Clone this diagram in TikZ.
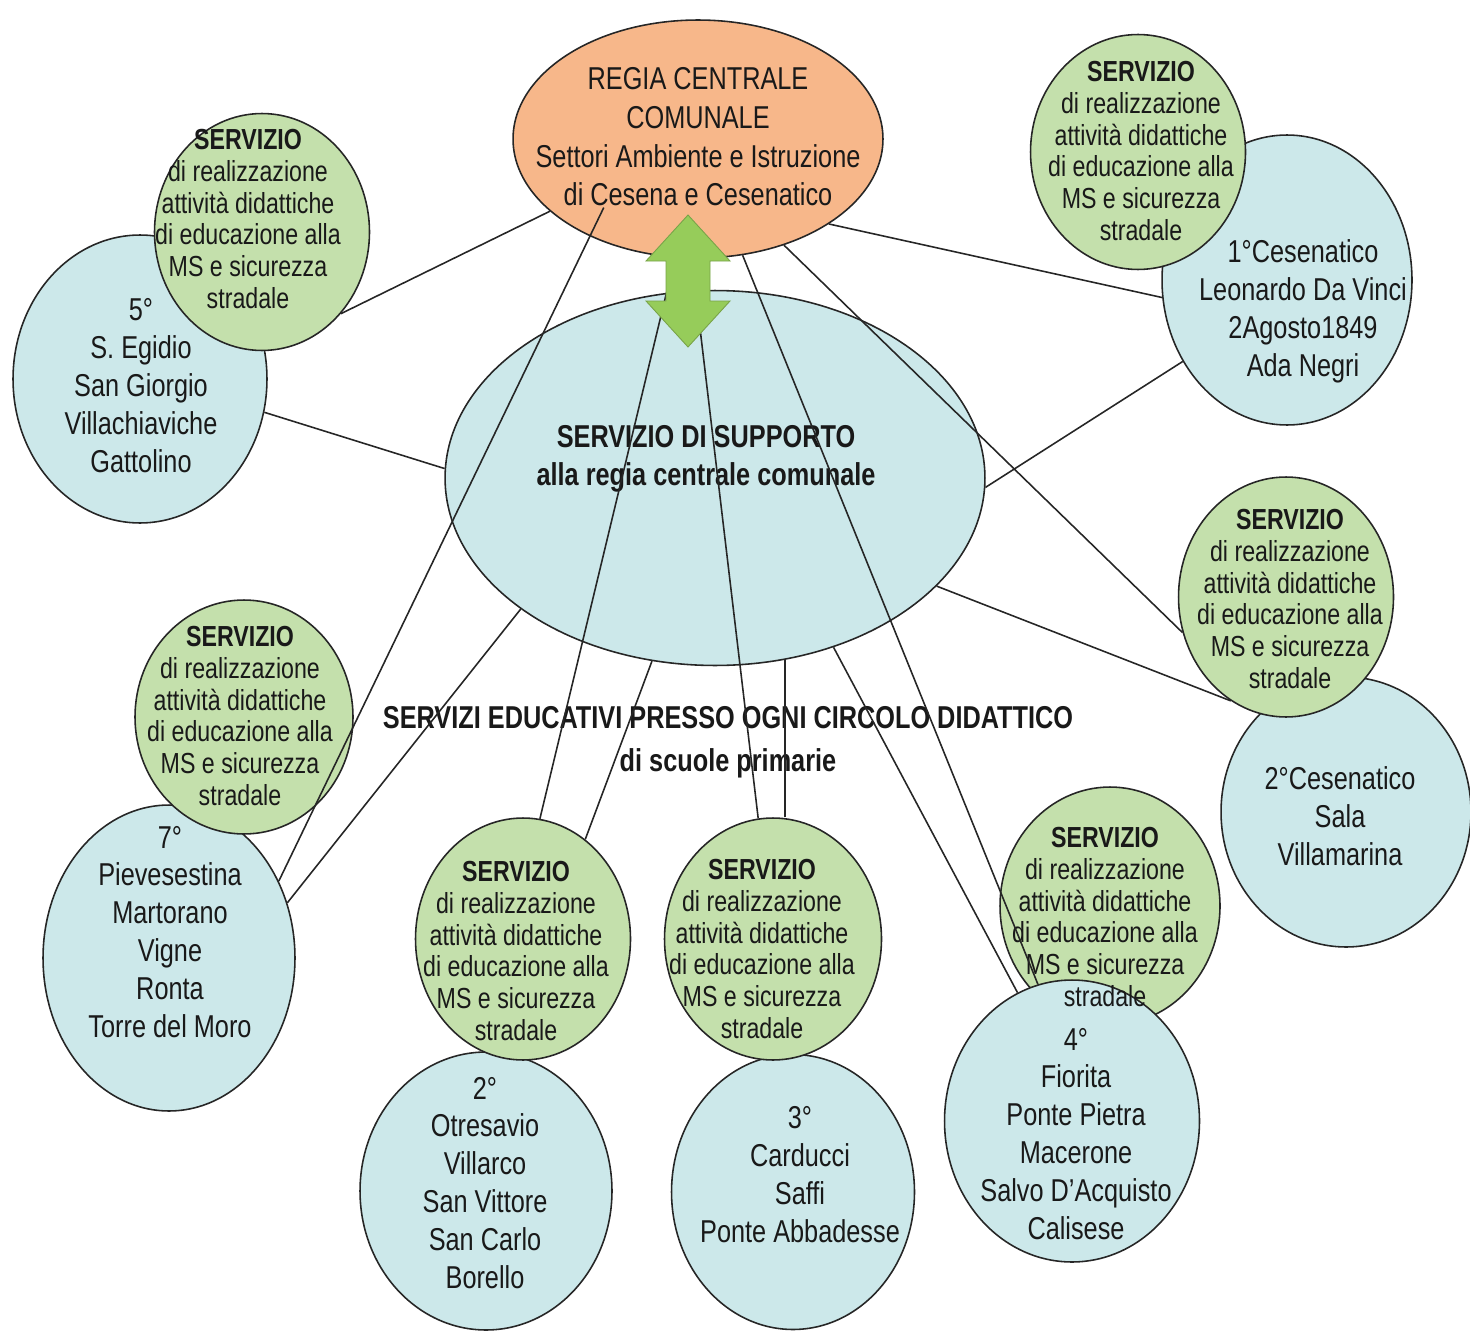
\documentclass[tikz,border=0pt]{standalone}
\usepackage{fontspec}
\setmainfont{Liberation Sans}[FakeStretch=0.8]
\usepackage{tikz}
\usetikzlibrary{shapes.geometric}

\definecolor{regiaorange}{RGB}{247,183,138}
\definecolor{servicegreen}{RGB}{196,224,172}
\definecolor{schoolblue}{RGB}{204,232,234}
\definecolor{arrowgreen}{RGB}{150,204,90}

\newcommand{\servicetxt}{\textbf{SERVIZIO}\\di realizzazione\\attività didattiche\\di educazione alla\\MS e sicurezza\\stradale}

\tikzset{
  bubble/.style={ellipse, draw=black!85, line width=0.9pt, inner sep=0pt},
  regiabox/.style={bubble, fill=regiaorange},
  servicebox/.style={bubble, fill=servicegreen},
  schoolbox/.style={bubble, fill=schoolblue},
  servicetext/.style={align=center, text=black!90, font=\fontsize{16.5}{18}\selectfont},
  schooltext/.style={align=center, text=black!90, font=\fontsize{18}{21.6}\selectfont},
  link/.style={line width=0.9pt, black!85},
  updown/.style={fill=arrowgreen, draw=arrowgreen!80!black, line width=0.5pt}
}

\begin{document}
\begin{tikzpicture}[x=0.02cm, y=-0.02cm]
\useasboundingbox (0,0) rectangle (1470,1338);

% regia and support
\node[regiabox, minimum width=7.4cm, minimum height=4.76cm] (regia) at (698,139) {};
\node[schoolbox, minimum width=10.8cm, minimum height=7.5cm] (support) at (715,478) {};

% circoli (school circle under its service circle)
\node[schoolbox, minimum width=5.08cm, minimum height=5.76cm] (c5) at (140,379) {};
\node[servicebox, minimum width=4.3cm, minimum height=4.74cm] (s5) at (262,232) {};
\node[schoolbox, minimum width=5cm, minimum height=5.8cm] (c1) at (1287,280) {};
\node[servicebox, minimum width=4.3cm, minimum height=4.7cm] (s1) at (1138,152) {};
\node[schoolbox, minimum width=5cm, minimum height=5.4cm] (c2c) at (1346,812) {};
\node[servicebox, minimum width=4.3cm, minimum height=4.8cm] (s2c) at (1286,597) {};
\node[schoolbox, minimum width=5.04cm, minimum height=6.12cm] (c7) at (169,958) {};
\node[servicebox, minimum width=4.36cm, minimum height=4.68cm] (s7) at (244,717) {};
\node[schoolbox, minimum width=5.04cm, minimum height=5.56cm] (c2) at (486,1191) {};
\node[servicebox, minimum width=4.3cm, minimum height=4.84cm] (s2) at (523,939) {};
\node[schoolbox, minimum width=4.86cm, minimum height=5.5cm] (c3) at (793,1192) {};
\node[servicebox, minimum width=4.34cm, minimum height=4.84cm] (s3) at (773,939) {};
\node[servicebox, minimum width=4.4cm, minimum height=4.76cm] (s4) at (1110,906) {};
\node[schoolbox, minimum width=5.1cm, minimum height=5.64cm] (c4) at (1072,1121) {};

% texts
\node[align=center, text=black!90, font=\fontsize{18}{22}\selectfont] (regiatext) at (698,137)
  {REGIA CENTRALE\\COMUNALE\\Settori Ambiente e Istruzione\\di Cesena e Cesenatico};
\node[align=center, text=black!90, font=\bfseries\fontsize{18}{21.6}\selectfont] (supporttext) at (706,459)
  {SERVIZIO DI SUPPORTO\\alla regia centrale comunale};
\node[align=center, text=black!90, font=\bfseries\fontsize{18}{24.5}\selectfont] (educ) at (728,742)
  {SERVIZI EDUCATIVI PRESSO OGNI CIRCOLO DIDATTICO\\di scuole primarie};

\node[servicetext] (s5text) at (248,219) {\servicetxt};
\node[servicetext] (s1text) at (1141,151) {\servicetxt};
\node[servicetext] (s2ctext) at (1290,599) {\servicetxt};
\node[servicetext] (s7text) at (240,716) {\servicetxt};
\node[servicetext] (s2text) at (516,951) {\servicetxt};
\node[servicetext] (s3text) at (762,949) {\servicetxt};
\node[servicetext] (s4text) at (1105,917) {\servicetxt};

\node[schooltext] (c5text) at (141,386) {5°\\S. Egidio\\San Giorgio\\Villachiaviche\\Gattolino};
\node[schooltext] (c1text) at (1303,311) {1°Cesenatico\\Leonardo Da Vinci\\2Agosto1849\\Ada Negri};
\node[schooltext] (c2ctext) at (1340,816) {2°Cesenatico\\Sala\\Villamarina};
\node[schooltext] (c7text) at (170,932) {7°\\Pievesestina\\Martorano\\Vigne\\Ronta\\Torre del Moro};
\node[schooltext] (c2text) at (485,1183) {2°\\Otresavio\\Villarco\\San Vittore\\San Carlo\\Borello};
\node[schooltext] (c3text) at (800,1175) {3°\\Carducci\\Saffi\\Ponte Abbadesse};
\node[schooltext] (c4text) at (1076,1134) {4°\\Fiorita\\Ponte Pietra\\Macerone\\Salvo D'Acquisto\\Calisese};

% links
\draw[link] (s5.314) -- (regia.206);
\draw[link] (c5.345) -- (support.178);
\draw[link] (support.214) -- (c7.25);
\draw[link, shorten <=-0.64cm] (regia.222) -- (c7.35);
\draw[link] (regia.259) -- (s2.82);
\draw[link] (regia.267) -- (s3.97);
\draw[link] (regia.291) -- (c4.104);
\draw[link] (support.305) -- (c4.113);
\draw[link] (regia.309) -- (s2c.199);
\draw[link] (regia.327) -- (c1.188);
\draw[link] (c1.218) -- (support.358);
\draw[link] (support.334) -- (s2c.242);
\draw[link] (support.251) -- (s2.58);
\draw[link] (support.291) -- (support.291 |- s3.north);

% double arrow between regia and support
\draw[updown] (688,215) -- (730,261) -- (710,261) -- (710,301) -- (730,301) -- (688,347)
  -- (646,301) -- (666,301) -- (666,261) -- (646,261) -- cycle;
\end{tikzpicture}
\end{document}
